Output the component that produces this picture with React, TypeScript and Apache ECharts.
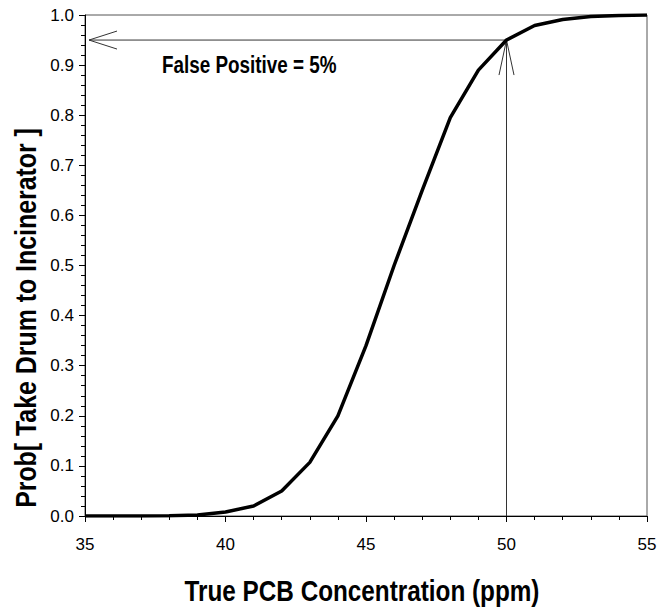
import React, { useEffect, useRef } from "react";
import * as echarts from "echarts";

// ---- Data ----
const concentration = [35, 36, 37, 38, 39, 40, 41, 42, 43, 44, 45, 46, 47, 48, 49, 50, 51, 52, 53, 54, 55];
const probTake = [0, 0, 0, 0.0005, 0.002, 0.008, 0.02, 0.05, 0.107, 0.2, 0.34, 0.5, 0.65, 0.795, 0.89, 0.95, 0.979, 0.991, 0.997, 0.999, 1.0];
const xTickStep = 5;
const yTickStep = 0.1;
const xRange = [35, 55];
const yRange = [0, 1];
const thresholdX = [50];
const falsePositiveLevel = [0.95];
const annotationText = "False Positive = 5%";
const xTitle = "True PCB Concentration (ppm)";
const yTitle = "Prob[ Take Drum to Incinerator ]";

const REGULAR = '"Liberation Sans", Arial, sans-serif';

export default function App() {
  const ref = useRef<HTMLDivElement>(null);
  useEffect(() => {
    const chart = echarts.init(ref.current!, null, { renderer: "svg" });
    const lineData = concentration.map((x, i) => [x, probTake[i]]);
    const guideStyle = { stroke: "#333", lineWidth: 1, fill: null };
    chart.setOption({
      animation: false,
      backgroundColor: "#fff",
      grid: { left: 85, right: 16, top: 15, bottom: 92, show: true, borderColor: "#555", borderWidth: 1 },
      xAxis: {
        type: "value",
        min: xRange[0],
        max: xRange[1],
        interval: xTickStep,
        axisLine: { show: true, lineStyle: { color: "#000", width: 1 } },
        axisTick: { show: true, length: 6, lineStyle: { color: "#000" } },
        minorTick: { show: true, splitNumber: 5, length: 4, lineStyle: { color: "#000" } },
        splitLine: { show: false },
        minorSplitLine: { show: false },
        axisLabel: { fontFamily: REGULAR, fontSize: 17, color: "#000", margin: 20 },
      },
      yAxis: {
        type: "value",
        min: yRange[0],
        max: yRange[1],
        interval: yTickStep,
        axisLine: { show: true, lineStyle: { color: "#000", width: 1 } },
        axisTick: { show: true, length: 6, lineStyle: { color: "#000" } },
        minorTick: { show: true, splitNumber: 5, length: 4, lineStyle: { color: "#000" } },
        splitLine: { show: false },
        minorSplitLine: { show: false },
        axisLabel: {
          fontFamily: REGULAR,
          fontSize: 17,
          color: "#000",
          margin: 11,
          formatter: (v: number) => v.toFixed(1),
        },
      },
      series: [
        {
          type: "custom",
          z: 2,
          silent: true,
          encode: { x: 0, y: 1 },
          data: [[thresholdX[0], falsePositiveLevel[0]]],
          renderItem: (params: any, api: any) => {
            const top = api.coord([api.value(0), api.value(1)]);
            const bottom = api.coord([api.value(0), yRange[0]]);
            const left = api.coord([xRange[0], api.value(1)]);
            const tipX = left[0] + 4;
            return {
              type: "group",
              children: [
                { type: "line", shape: { x1: bottom[0], y1: bottom[1], x2: top[0], y2: top[1] }, style: guideStyle },
                {
                  type: "polyline",
                  shape: { points: [[top[0] - 7.5, top[1] + 35], [top[0], top[1]], [top[0] + 7.5, top[1] + 35]] },
                  style: guideStyle,
                },
                { type: "line", shape: { x1: tipX, y1: top[1], x2: top[0], y2: top[1] }, style: guideStyle },
                {
                  type: "polyline",
                  shape: { points: [[tipX + 28, top[1] - 9], [tipX, top[1]], [tipX + 28, top[1] + 9]] },
                  style: guideStyle,
                },
              ],
            };
          },
        },
        {
          type: "line",
          z: 3,
          data: lineData,
          showSymbol: false,
          symbol: "none",
          lineStyle: { color: "#000", width: 3.5 },
          itemStyle: { color: "#000" },
        },
      ],
      graphic: [
        {
          type: "text",
          x: 26,
          y: 318,
          rotation: Math.PI / 2,
          scaleX: 0.83,
          style: {
            text: yTitle,
            fill: "#000",
            fontFamily: REGULAR,
            fontWeight: "bold",
            fontSize: 30,
            align: "center",
            verticalAlign: "middle",
          },
        },
        {
          type: "text",
          x: 362,
          y: 591,
          scaleX: 0.81,
          style: {
            text: xTitle,
            fill: "#000",
            fontFamily: REGULAR,
            fontWeight: "bold",
            fontSize: 30,
            align: "center",
            verticalAlign: "middle",
          },
        },
        {
          type: "text",
          x: 162,
          y: 65,
          scaleX: 0.82,
          style: {
            text: annotationText,
            fill: "#000",
            fontFamily: REGULAR,
            fontWeight: "bold",
            fontSize: 23,
            align: "left",
            verticalAlign: "middle",
          },
        },
      ],
    });
    return () => chart.dispose();
  }, []);
  return <div ref={ref} style={{ position: "absolute", left: 0, top: 0, width: 663, height: 608 }} />;
}
